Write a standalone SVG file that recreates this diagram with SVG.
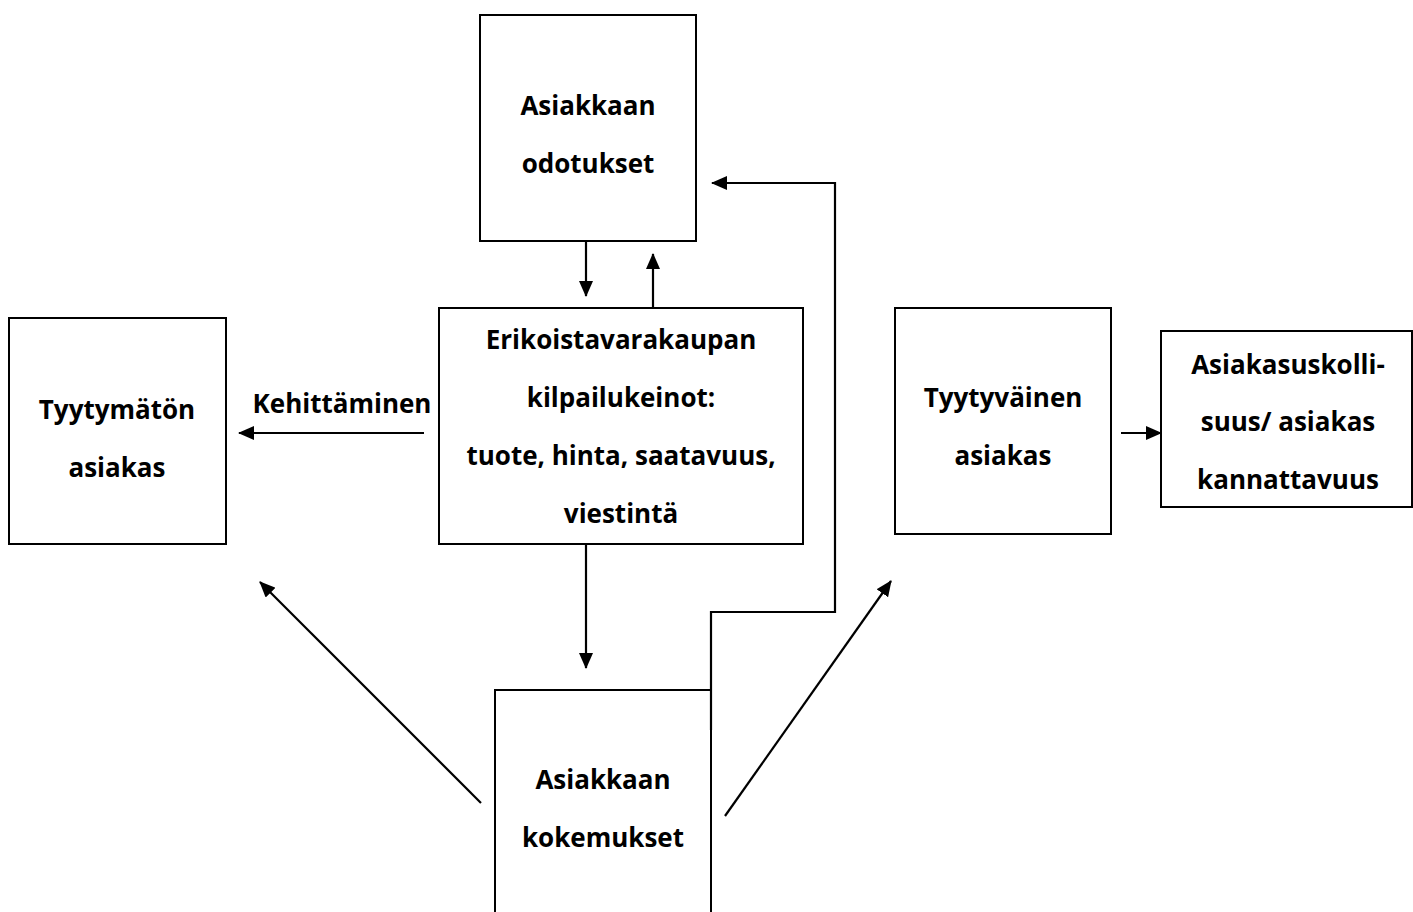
<svg xmlns="http://www.w3.org/2000/svg" width="1413" height="912" viewBox="0 0 1413 912">
<style>
.box{fill:#fff;stroke:#000;stroke-width:2}
.t{font-family:"Open Sans","Liberation Sans",sans-serif;font-weight:bold;font-size:26px;text-anchor:middle;fill:#000}
.c{fill:none;stroke:#000;stroke-width:2.2}
</style>
<defs>
<marker id="ah" viewBox="0 0 16 14" refX="15" refY="7" markerWidth="16" markerHeight="14" markerUnits="userSpaceOnUse" orient="auto">
<path d="M0,0 L16,7 L0,14 Z" fill="#000"/>
</marker>
</defs>
<rect width="1413" height="912" fill="#fff"/>
<g id="odotukset">
<rect class="box" x="480" y="15" width="216" height="226"/>
<text class="t" x="588" y="115">Asiakkaan</text>
<text class="t" x="588" y="173">odotukset</text>
</g>
<g id="kilpailukeinot">
<rect class="box" x="439" y="308" width="364" height="236"/>
<text class="t" x="621" y="349">Erikoistavarakaupan</text>
<text class="t" x="621" y="407">kilpailukeinot:</text>
<text class="t" x="621" y="465">tuote, hinta, saatavuus,</text>
<text class="t" x="621" y="523">viestintä</text>
</g>
<g id="tyytymaton">
<rect class="box" x="9" y="318" width="217" height="226"/>
<text class="t" x="117" y="419">Tyytymätön</text>
<text class="t" x="117" y="477">asiakas</text>
</g>
<g id="tyytyvainen">
<rect class="box" x="895" y="308" width="216" height="226"/>
<text class="t" x="1003" y="407">Tyytyväinen</text>
<text class="t" x="1003" y="465">asiakas</text>
</g>
<g id="uskollisuus">
<rect class="box" x="1161" y="331" width="251" height="176"/>
<text class="t" x="1288" y="374">Asiakasuskolli-</text>
<text class="t" x="1288" y="431">suus/ asiakas</text>
<text class="t" x="1288" y="489">kannattavuus</text>
</g>
<g id="kokemukset">
<rect class="box" x="495" y="690" width="216" height="240"/>
<text class="t" x="603" y="789">Asiakkaan</text>
<text class="t" x="603" y="847">kokemukset</text>
</g>
<g id="connectors">
<line class="c" x1="586" y1="241" x2="586" y2="296" marker-end="url(#ah)"/>
<line class="c" x1="653" y1="308" x2="653" y2="254" marker-end="url(#ah)"/>
<polyline class="c" points="711,730 711,612 835,612 835,183 712,183" marker-end="url(#ah)"/>
<line class="c" x1="586" y1="544" x2="586" y2="668" marker-end="url(#ah)"/>
<line class="c" x1="424" y1="433" x2="239" y2="433" marker-end="url(#ah)"/>
<text class="t" x="342" y="413">Kehittäminen</text>
<line class="c" x1="481" y1="803" x2="260" y2="582" marker-end="url(#ah)"/>
<line class="c" x1="725" y1="816" x2="891" y2="581" marker-end="url(#ah)"/>
<line class="c" x1="1121" y1="433" x2="1161" y2="433" marker-end="url(#ah)"/>
</g>
</svg>
